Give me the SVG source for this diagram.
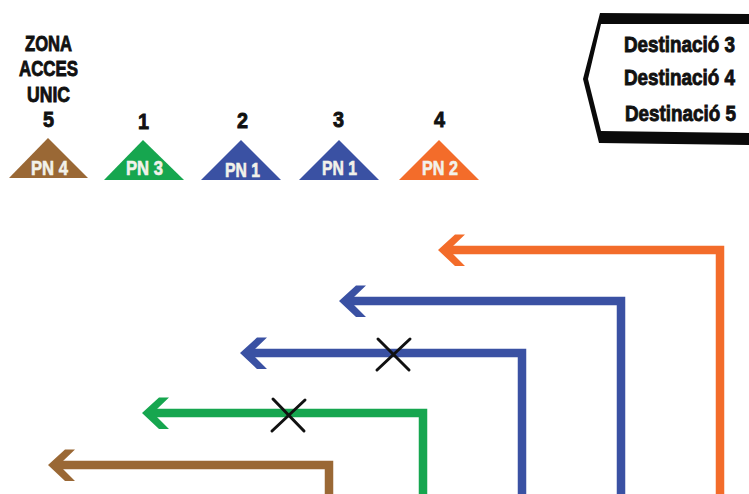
<svg xmlns="http://www.w3.org/2000/svg" width="749" height="494" viewBox="0 0 749 494">
<style>
text{font-family:"Liberation Sans",Arial,sans-serif;font-weight:700}
.k{fill:#111;font-size:22.5px;stroke:#111;stroke-width:.9}
.p{fill:#f2f2ea;font-size:20px;stroke:#f2f2ea;stroke-width:.6}
.c{fill:none;stroke-width:8.5;stroke-linejoin:miter}
.x{stroke:#111;stroke-width:3;stroke-linecap:round;fill:none}
.or{stroke:#f36c2a}.bl{stroke:#3a51a3}.gr{stroke:#16a64f}.br{stroke:#9a6835}
.fo{fill:#f36c2a}.fb{fill:#3a51a3}.fg{fill:#16a64f}.fr{fill:#9a6835}
</style>
<defs>
<polygon id="head" points="0,0 17,-15.5 27,-15.5 15,-4 15,4 27,16 17,16"/>
</defs>
<rect width="749" height="494" fill="#fff"/>
<g id="label-zona">
<text class="k" x="25" y="51" textLength="47" lengthAdjust="spacingAndGlyphs">ZONA</text>
<text class="k" x="19" y="76" textLength="59" lengthAdjust="spacingAndGlyphs">ACCES</text>
<text class="k" x="27" y="102" textLength="43" lengthAdjust="spacingAndGlyphs">UNIC</text>
</g>
<g id="node-pn4">
<text class="k" x="43" y="127" textLength="11" lengthAdjust="spacingAndGlyphs">5</text>
<polygon points="48,138 88,178 9,178" class="fr"/>
<text class="p" x="31" y="175" textLength="37" lengthAdjust="spacingAndGlyphs">PN 4</text>
</g>
<g id="node-pn3">
<text class="k" x="138" y="129" textLength="11" lengthAdjust="spacingAndGlyphs">1</text>
<polygon points="143,140 184,180 104,180" class="fg"/>
<text class="p" x="126" y="175" textLength="37" lengthAdjust="spacingAndGlyphs">PN 3</text>
</g>
<g id="node-pn1a">
<text class="k" x="237" y="128" textLength="11" lengthAdjust="spacingAndGlyphs">2</text>
<polygon points="241,140 281,180 201,180" class="fb"/>
<text class="p" x="225" y="177" textLength="35" lengthAdjust="spacingAndGlyphs">PN 1</text>
</g>
<g id="node-pn1b">
<text class="k" x="333" y="127" textLength="11" lengthAdjust="spacingAndGlyphs">3</text>
<polygon points="339,140 379,180 299,180" class="fb"/>
<text class="p" x="322" y="175" textLength="35" lengthAdjust="spacingAndGlyphs">PN 1</text>
</g>
<g id="node-pn2">
<text class="k" x="434" y="127" textLength="11" lengthAdjust="spacingAndGlyphs">4</text>
<polygon points="439,140 479,180 399,180" class="fo"/>
<text class="p" x="422" y="175" textLength="36" lengthAdjust="spacingAndGlyphs">PN 2</text>
</g>
<g id="node-destinations">
<path d="M600,13 L749,14 L749,145 L599,143 L583,79 Z M601,24 L588,79 L601,131 L749,133 L749,24 Z" fill="#0a0a0a" fill-rule="evenodd"/>
<text class="k" transform="translate(624,52) scale(.838,1)">Destinació 3</text>
<text class="k" transform="translate(624,85) scale(.838,1)">Destinació 4</text>
<text class="k" transform="translate(625,121) scale(.838,1)">Destinació 5</text>
</g>
<g id="connectors">
<path class="c or" d="M720,494 V250 H450"/>
<use href="#head" x="438" y="250" class="fo"/>
<path class="c bl" d="M621,494 V301 H350"/>
<use href="#head" x="339" y="301" class="fb"/>
<path class="c bl" d="M522,494 V353 H252"/>
<use href="#head" x="240" y="353" class="fb"/>
<path class="c gr" d="M423,494 V413 H154"/>
<use href="#head" x="142" y="413" class="fg"/>
<path class="c br" d="M329,494 V465 H60"/>
<use href="#head" x="48" y="465" class="fr"/>
<path class="x" d="M378,339 L409,370 M410,339 L377,370"/>
<path class="x" d="M273,399 L304,431 M305,400 L272,431"/>
</g>
</svg>
